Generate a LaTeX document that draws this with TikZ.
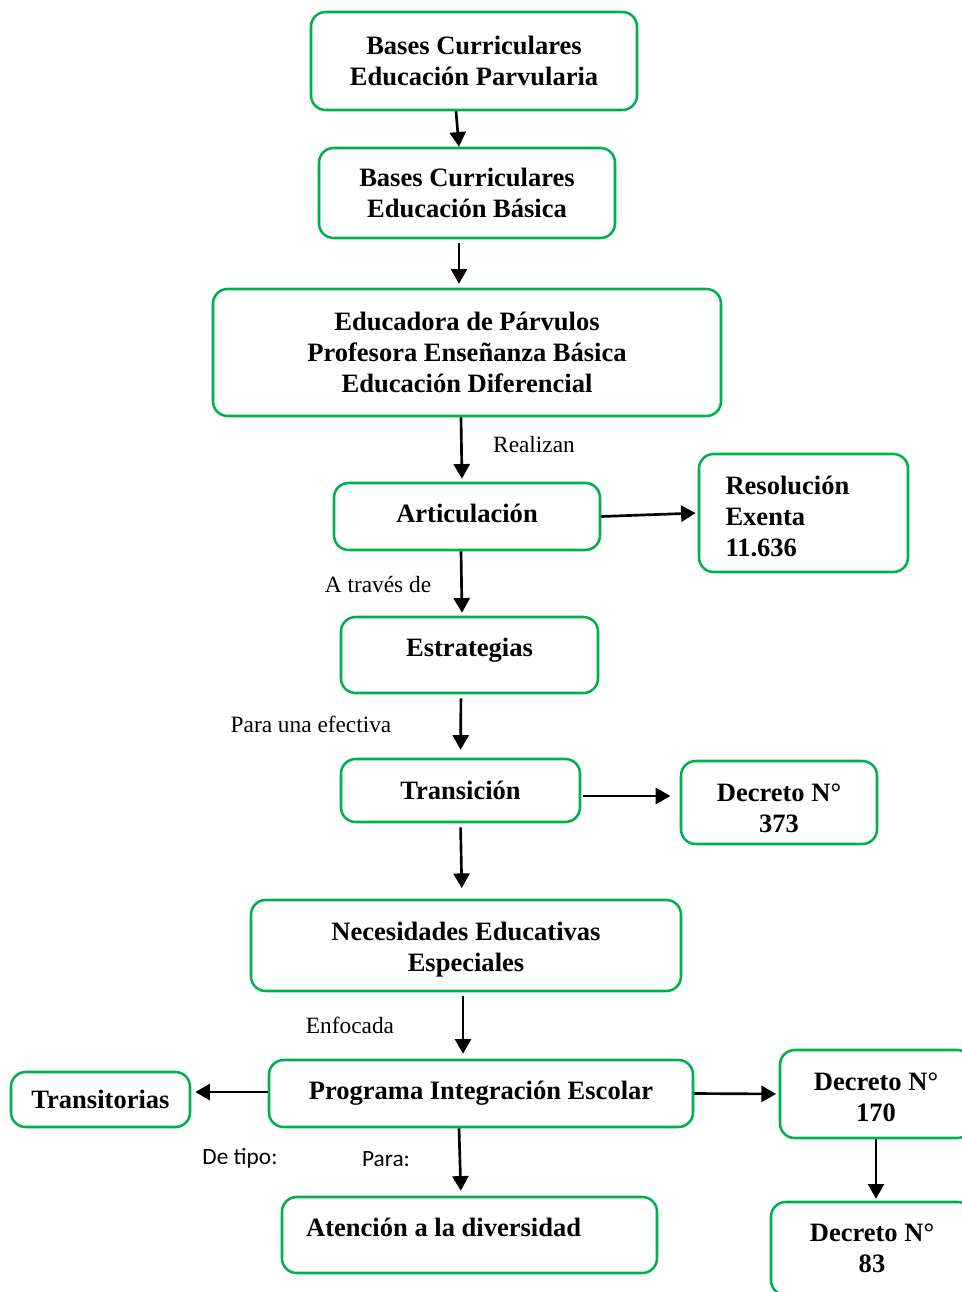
\documentclass[tikz,border=0pt]{standalone}
\usepackage{fontspec}
\setmainfont{Liberation Serif}
\newfontfamily\calibri{Carlito}
\usepackage{xcolor}
\usetikzlibrary{arrows.meta}
\definecolor{verde}{RGB}{0,176,80}
\newcommand{\bajar}[1]{\rule{0pt}{#1}}

\begin{document}
\begin{tikzpicture}[x=0.75pt,y=-0.75pt,
        caja/.style={draw=verde,line width=1.9pt,rounded corners=11pt,align=center,inner sep=0pt,
            font=\fontsize{19.9}{23.25}\selectfont\bfseries},
        flecha/.style={-{Triangle[length=11pt,width=12pt]},line width=2pt},
        etiqueta/.style={inner sep=0pt,font=\fontsize{17.5}{21}\selectfont},
        etiquetasans/.style={inner sep=0pt,font=\calibri\fontsize{17.5}{21}\selectfont},
        upText/.style={text height=14pt,text depth=#1}]
            \useasboundingbox (0,0) rectangle (962,1292);

            \node[caja,minimum width=244.5pt,minimum height=73.5pt] (bcp) at (474,61) {Bases Curriculares\\Educación Parvularia};
            \node[caja,minimum width=222pt,minimum height=67.5pt] (bcb) at (467,193) {Bases Curriculares\\Educación Básica};
            \node[caja,minimum width=381pt,minimum height=95.25pt] (edu) at (467,352.5) {Educadora de Párvulos\\Profesora Enseñanza Básica\\Educación Diferencial};
            \node[caja,upText=5pt,minimum width=199.5pt,minimum height=50.25pt] (art) at (467,516.5) {Articulación};
            \node[caja,align=left,text width=117pt,minimum width=156.75pt,minimum height=88.5pt] (res) at (803.5,513) {\bajar{18.7pt}Resolución\\Exenta\\11.636};
            \node[caja,upText=12pt,minimum width=192.75pt,minimum height=57pt] (est) at (469.5,655) {Estrategias};
            \node[caja,minimum width=179.25pt,minimum height=47.25pt] (tra) at (460.5,790.5) {Transición};
            \node[caja,minimum width=147pt,minimum height=62.25pt] (d373) at (779,802.5) {\bajar{21.5pt}Decreto N°\\373};
            \node[caja,minimum width=322.5pt,minimum height=68.25pt] (nee) at (466,945.5) {\bajar{19.5pt}Necesidades Educativas\\Especiales};
            \node[caja,upText=5pt,minimum width=318pt,minimum height=50.25pt] (pie) at (481,1093.5) {Programa Integración Escolar};
            \node[caja,minimum width=134.25pt,minimum height=41.25pt] (trn) at (100.5,1099.5) {Transitorias};
            \node[caja,minimum width=144pt,minimum height=66pt] (d170) at (876,1094) {\bajar{17.5pt}Decreto N°\\170};
            \node[caja,minimum width=151.5pt,minimum height=69.75pt] (d83) at (872,1248.5) {Decreto N°\\83};
            \node[caja,upText=12pt,align=left,text width=245pt,minimum width=281.25pt,minimum height=57pt] (ate) at (469.5,1235) {\spaceskip=0pt Atención a la diversidad};

            \draw[flecha] ([xshift=-13.5pt]bcp.south) -- ([xshift=-6pt]bcb.north);
            \draw[flecha,shorten <=3pt,shorten >=3pt] ([xshift=-6pt]bcb.south) -- ([xshift=-6pt]edu.north);
            \draw[flecha,shorten >=2.25pt] ([xshift=-4.5pt]edu.south) -- ([xshift=-3.75pt]art.north);
            \draw[flecha,shorten >=1.5pt] (art.east) -- (res.west);
            \draw[flecha,shorten >=2.25pt] ([xshift=-4.5pt]art.south) -- ([xshift=-5.6pt]est.north);
            \draw[flecha,shorten <=3pt,shorten >=6pt] ([xshift=-6.4pt]est.south) -- (tra.north);
            \draw[flecha,shorten <=1.5pt,shorten >=7pt] ([yshift=-4.1pt]tra.east) -- ([yshift=-4.1pt]tra.east -| d373.west);
            \draw[flecha,shorten <=3pt,shorten >=8pt] (tra.south) -- ([xshift=-3pt]nee.north);
            \draw[flecha,shorten <=3pt,shorten >=3.75pt] ([xshift=-2.25pt]nee.south) -- ([xshift=-13.5pt]pie.north);
            \draw[flecha,shorten >=3pt] ([yshift=1.1pt]pie.west) -- ([yshift=1.1pt]pie.west -| trn.east);
            \draw[flecha,shorten >=2pt] (pie.east) -- (d170.west);
            \draw[flecha,shorten >=1.5pt] (d170.south) -- (d170.south |- d83.north);
            \draw[flecha,shorten >=3.75pt] ([xshift=-16.5pt]pie.south) -- ([xshift=-6.4pt]ate.north);

            \node[etiqueta] (realizan) at (534,445) {Realizan};
            \node[etiqueta] (atraves) at (378,584) {A través de};
            \node[etiqueta] (paraefectiva) at (311,724) {Para una efectiva};
            \node[etiqueta] (enfocada) at (350,1025) {Enfocada};
            \node[etiquetasans] (detipo) at (240,1158) {De tipo:};
            \node[etiquetasans] (para) at (386,1159.5) {Para:};
\end{tikzpicture}
\end{document}
